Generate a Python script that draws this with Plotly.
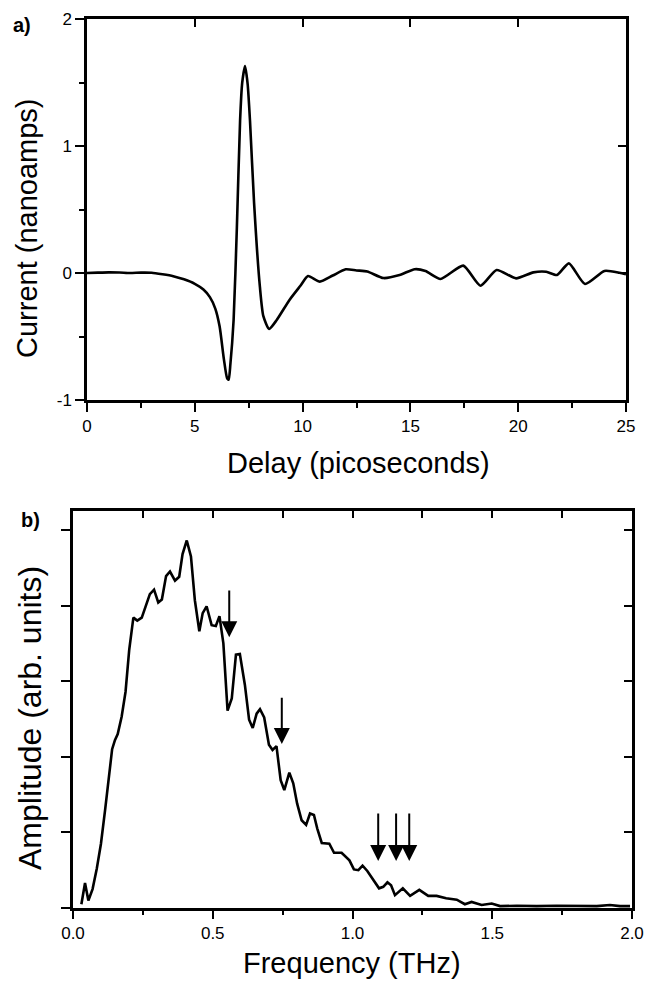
import plotly.graph_objects as go

# ---------------- data: panel a (time domain) ----------------
delay_ps = [0, 0.5, 1.0, 1.5, 2.0, 2.5, 3.0, 3.5, 4.0, 4.5, 5.0, 5.4, 5.7, 5.95,
            6.15, 6.35, 6.5, 6.57, 6.65, 6.8, 6.95, 7.1, 7.2, 7.33, 7.45, 7.56,
            7.75, 8.02, 8.18, 8.45, 8.8, 9.4, 9.9, 10.25, 10.8, 11.4, 12.0, 12.5,
            13.0, 13.75, 14.5, 15.2, 15.7, 16.4, 17.45, 18.25, 19.0, 19.9, 20.7,
            21.3, 21.8, 22.35, 23.1, 24.0, 24.7, 25.0]
current_na = [0.0, 0.003, 0.005, 0.004, 0.0, 0.003, 0.002, -0.01, -0.025, -0.05,
              -0.085, -0.13, -0.19, -0.28, -0.42, -0.68, -0.83, -0.84, -0.72,
              -0.37, 0.35, 1.2, 1.5, 1.63, 1.49, 1.2, 0.55, -0.11, -0.34, -0.44,
              -0.37, -0.21, -0.1, -0.024, -0.068, -0.02, 0.029, 0.02, 0.012,
              -0.04, -0.016, 0.03, 0.016, -0.047, 0.058, -0.10, 0.024, -0.042,
              0.005, 0.01, -0.016, 0.076, -0.087, 0.016, 0.002, -0.01]

# ---------------- data: panel b (spectrum) ----------------
freq_thz = [0.03, 0.043, 0.055, 0.07, 0.085, 0.1, 0.115, 0.128, 0.14, 0.15, 0.16,
            0.174, 0.188, 0.201, 0.216, 0.23, 0.246, 0.275, 0.29, 0.305, 0.318,
            0.333, 0.347, 0.365, 0.38, 0.392, 0.407, 0.422, 0.436, 0.452, 0.464,
            0.478, 0.496, 0.511, 0.524, 0.538, 0.553, 0.568, 0.583, 0.597, 0.615,
            0.63, 0.643, 0.657, 0.669, 0.684, 0.701, 0.714, 0.728, 0.743, 0.756,
            0.774, 0.788, 0.802, 0.818, 0.834, 0.848, 0.862, 0.874, 0.89, 0.917,
            0.934, 0.961, 0.989, 1.005, 1.021, 1.036, 1.053, 1.074, 1.095, 1.11,
            1.125, 1.138, 1.152, 1.18, 1.206, 1.239, 1.271, 1.301, 1.335, 1.373,
            1.402, 1.426, 1.462, 1.498, 1.528, 1.588, 1.659, 1.73, 1.80, 1.874,
            1.921, 1.957, 1.993]
amplitude = [0.05, 0.33, 0.1, 0.25, 0.52, 0.85, 1.3, 1.75, 2.1, 2.22, 2.3,
             2.53, 2.86, 3.41, 3.84, 3.80, 3.84, 4.15, 4.21, 4.04, 4.08,
             4.39, 4.45, 4.33, 4.38, 4.68, 4.86, 4.65, 4.07, 3.66, 3.90,
             3.99, 3.74, 3.73, 3.86, 3.50, 2.61, 2.77, 3.35, 3.36, 2.95,
             2.49, 2.38, 2.57, 2.63, 2.52, 2.16, 2.09, 2.14, 1.69, 1.56,
             1.79, 1.65, 1.38, 1.16, 1.10, 1.25, 1.23, 1.05, 0.86, 0.85,
             0.73, 0.73, 0.63, 0.51, 0.50, 0.56, 0.49, 0.38, 0.26, 0.28,
             0.34, 0.30, 0.17, 0.26, 0.16, 0.24, 0.16, 0.16, 0.13, 0.11,
             0.05, 0.08, 0.04, 0.06, 0.025, 0.03, 0.025, 0.03, 0.03, 0.025,
             0.04, 0.025, 0.025]

# arrows marking spectral features (frequency, arrow top, arrow tip)
arrow_freqs = [0.559, 0.747, 1.092, 1.156, 1.203]
arrow_tops = [4.22, 2.80, 1.27, 1.27, 1.27]
arrow_tips = [3.58, 2.17, 0.62, 0.62, 0.62]

# tick labels
delay_ticks = [0, 5, 10, 15, 20, 25]
current_ticks = [-1, 0, 1, 2]
current_tick_text = ["-1", "0", "1", "2"]
freq_ticks = [0.0, 0.5, 1.0, 1.5, 2.0]
freq_tick_text = ["0.0", "0.5", "1.0", "1.5", "2.0"]

FONT = "Liberation Sans, Arial, Helvetica, sans-serif"
W, H = 647, 981

fig = go.Figure()
fig.add_trace(go.Scatter(x=delay_ps, y=current_na, mode="lines",
                         line=dict(color="black", width=2.6, shape="spline", smoothing=0.6),
                         xaxis="x", yaxis="y", showlegend=False, hoverinfo="skip"))
fig.add_trace(go.Scatter(x=freq_thz, y=amplitude, mode="lines",
                         line=dict(color="black", width=2.6),
                         xaxis="x2", yaxis="y2", showlegend=False, hoverinfo="skip"))
# transparent copies so the mirrored (top/right) axes get drawn
fig.add_trace(go.Scatter(x=delay_ps, y=current_na, mode="lines", opacity=0,
                         xaxis="x3", yaxis="y3", showlegend=False, hoverinfo="skip"))
fig.add_trace(go.Scatter(x=freq_thz, y=amplitude, mode="lines", opacity=0,
                         xaxis="x4", yaxis="y4", showlegend=False, hoverinfo="skip"))

# domains (paper coords)
ax_dom = [87 / W, 626 / W]
ay_dom = [1 - 400 / H, 1 - 19 / H]
bx_dom = [73 / W, 632 / W]
by_dom = [1 - 908 / H, 1 - 511 / H]

common = dict(showgrid=False, zeroline=False, showline=True, linecolor="black",
              linewidth=2.5, tickcolor="black", tickwidth=2.2, automargin=False,
              tickfont=dict(family=FONT, size=17, color="black"))

fig.update_layout(
    width=W, height=H, autosize=False,
    margin=dict(l=0, r=0, t=0, b=0, pad=0, autoexpand=False),
    paper_bgcolor="white", plot_bgcolor="white",
    font=dict(family=FONT, color="black"),
    # ---- panel a ----
    xaxis=dict(domain=ax_dom, anchor="y", range=[0, 25], tickvals=delay_ticks,
               ticks="outside", ticklen=9,
               minor=dict(dtick=2.5, ticks="outside", ticklen=5, tickwidth=2.2, tickcolor="black"),
               **common),
    xaxis3=dict(domain=ax_dom, anchor="y3", overlaying="x", side="top", range=[0, 25],
                tickvals=[5, 10, 15, 20], ticks="inside", ticklen=8, showticklabels=False,
                **common),
    yaxis=dict(domain=ay_dom, anchor="x", range=[-1, 2], tickvals=current_ticks,
               ticktext=current_tick_text, ticks="outside", ticklen=9,
               minor=dict(dtick=0.5, ticks="outside", ticklen=5, tickwidth=2.2, tickcolor="black"),
               **common),
    yaxis3=dict(domain=ay_dom, anchor="x3", overlaying="y", side="right", range=[-1, 2],
                tickvals=current_ticks, ticks="inside", ticklen=8, showticklabels=False,
                **common),
    # ---- panel b ----
    xaxis2=dict(domain=bx_dom, anchor="y2", range=[0, 2], tickvals=freq_ticks,
                ticktext=freq_tick_text, ticks="outside", ticklen=8,
                minor=dict(dtick=0.25, ticks="outside", ticklen=4, tickwidth=2.2, tickcolor="black"),
                **common),
    xaxis4=dict(domain=bx_dom, anchor="y4", overlaying="x2", side="top", range=[0, 2],
                dtick=0.25, ticks="inside", ticklen=7, showticklabels=False, **common),
    yaxis2=dict(domain=by_dom, anchor="x2", range=[0, 5.25], dtick=1, ticks="outside",
                ticklen=9, showticklabels=False, **common),
    yaxis4=dict(domain=by_dom, anchor="x4", overlaying="y2", side="right", range=[0, 5.25],
                dtick=1, ticks="inside", ticklen=8, showticklabels=False, **common),
)

title_font = dict(family=FONT, size=29, color="black")
annos = [
    dict(text="Delay (picoseconds)", x=358 / W, y=1 - 463 / H, xref="paper", yref="paper",
         showarrow=False, font=title_font, xanchor="center", yanchor="middle"),
    dict(text="Current (nanoamps)", x=27 / W, y=1 - 228 / H, xref="paper", yref="paper",
         showarrow=False, font=title_font, textangle=-90, xanchor="center", yanchor="middle"),
    dict(text="Frequency (THz)", x=352 / W, y=0, xref="paper", yref="paper",
         showarrow=False, font=title_font, xanchor="center", yanchor="bottom"),
    dict(text="Amplitude (arb. units)", x=30 / W, y=1 - 718 / H, xref="paper", yref="paper",
         showarrow=False, font=dict(family=FONT, size=32, color="black"),
         textangle=-90, xanchor="center", yanchor="middle"),
    dict(text="<b>a)</b>", x=22 / W, y=1 - 25 / H, xref="paper", yref="paper",
         showarrow=False, font=dict(family=FONT, size=20, color="black"),
         xanchor="center", yanchor="middle"),
    dict(text="<b>b)</b>", x=31 / W, y=1 - 520 / H, xref="paper", yref="paper",
         showarrow=False, font=dict(family=FONT, size=20, color="black"),
         xanchor="center", yanchor="middle"),
]
for f, top, tip in zip(arrow_freqs, arrow_tops, arrow_tips):
    annos.append(dict(x=f, y=tip, ax=f, ay=top, xref="x2", yref="y2", axref="x2", ayref="y2",
                      text="", showarrow=True, arrowhead=2, arrowsize=1.6, arrowwidth=2,
                      arrowcolor="black"))
fig.update_layout(annotations=annos)

fig.write_html("out.html", config={"displayModeBar": False},
               post_script="document.body.style.margin='0';document.body.style.overflow='hidden';")
